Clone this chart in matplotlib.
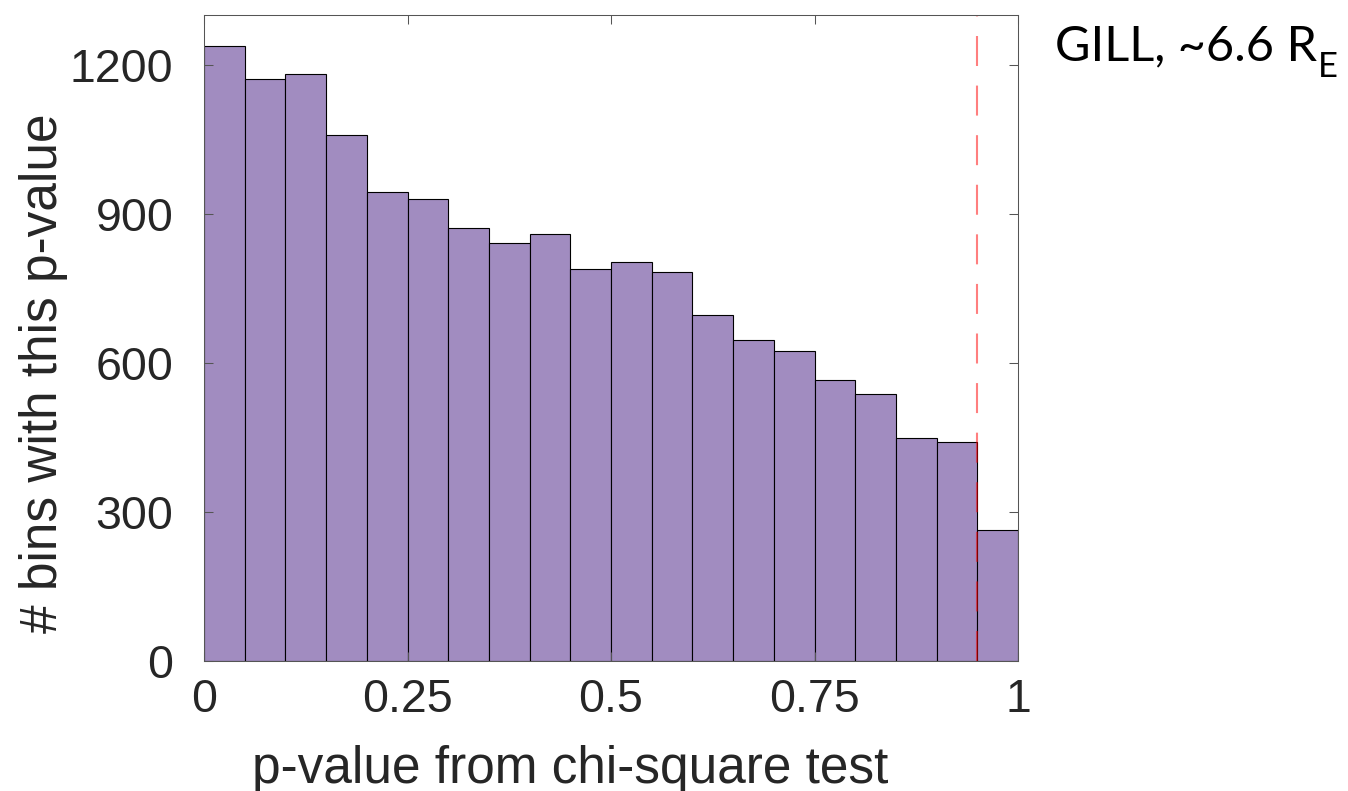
import matplotlib
matplotlib.use("Agg")
import matplotlib.pyplot as plt
import numpy as np

# ---- data ----
bin_edges = np.linspace(0, 1, 21)
counts = [1237, 1171, 1182, 1058, 943, 930, 872, 841, 860, 789,
          802, 783, 696, 645, 623, 566, 538, 449, 440, 263]
threshold = 0.95
xticks = [0, 0.25, 0.5, 0.75, 1]
xticklabels = ["0", "0.25", "0.5", "0.75", "1"]
yticks = [0, 300, 600, 900, 1200]
yticklabels = ["0", "300", "600", "900", "1200"]

W, H, DPI = 1348, 791, 100
fig = plt.figure(figsize=(W / DPI, H / DPI), dpi=DPI)
plt.rcParams['font.family'] = ['Liberation Sans', 'DejaVu Sans']
txt = '#262626'

# axes box in pixels: left 204, right 1018, top 15, bottom 661
ax = fig.add_axes([204 / W, 1 - 661 / H, (1018 - 204) / W, (661 - 15) / H])

ax.hist(bin_edges[:-1], bins=bin_edges, weights=counts,
        color='#A18CC0', edgecolor='black', linewidth=0.8)

ax.plot([threshold, threshold], [0, 1300], color=(1, 0, 0, 0.5), lw=1.5,
        dashes=(21.6 / 1.5, 14.1 / 1.5))

ax.set_xlim(0, 1)
ax.set_ylim(0, 1300)
ax.set_xticks(xticks)
ax.set_xticklabels(xticklabels)
ax.set_yticks(yticks)
ax.set_yticklabels(yticklabels)
ax.tick_params(direction='in', length=6.5, width=0.75, colors='#555555',
               labelcolor=txt, labelsize=33.5, top=True, right=True)
ax.tick_params(axis='x', pad=12)
ax.tick_params(axis='y', pad=22)
for s in ax.spines.values():
    s.set_color('#555555')
    s.set_linewidth(0.75)

fig.text(570 / W, 1 - 783 / H, 'p-value from chi-square test', ha='center',
         va='baseline', fontsize=37, color=txt)
fig.text(57 / W, 1 - 373 / H, '# bins with this p-value', ha='center',
         va='baseline', rotation=90, rotation_mode='anchor', fontsize=37,
         color=txt)

# annotation with subscript
t = fig.text(1055 / W, 1 - 60 / H, 'GILL, ~6.6 R', ha='left', va='baseline',
             fontsize=35, color='black', family=['Lato', 'DejaVu Sans'])
fig.canvas.draw()
bb = t.get_window_extent()
fig.text((bb.x1 + 1) / W, 1 - 77 / H, 'E', ha='left', va='baseline',
         fontsize=25, color='black', family=['Lato', 'DejaVu Sans'])

fig.savefig('out.png', dpi=DPI)
